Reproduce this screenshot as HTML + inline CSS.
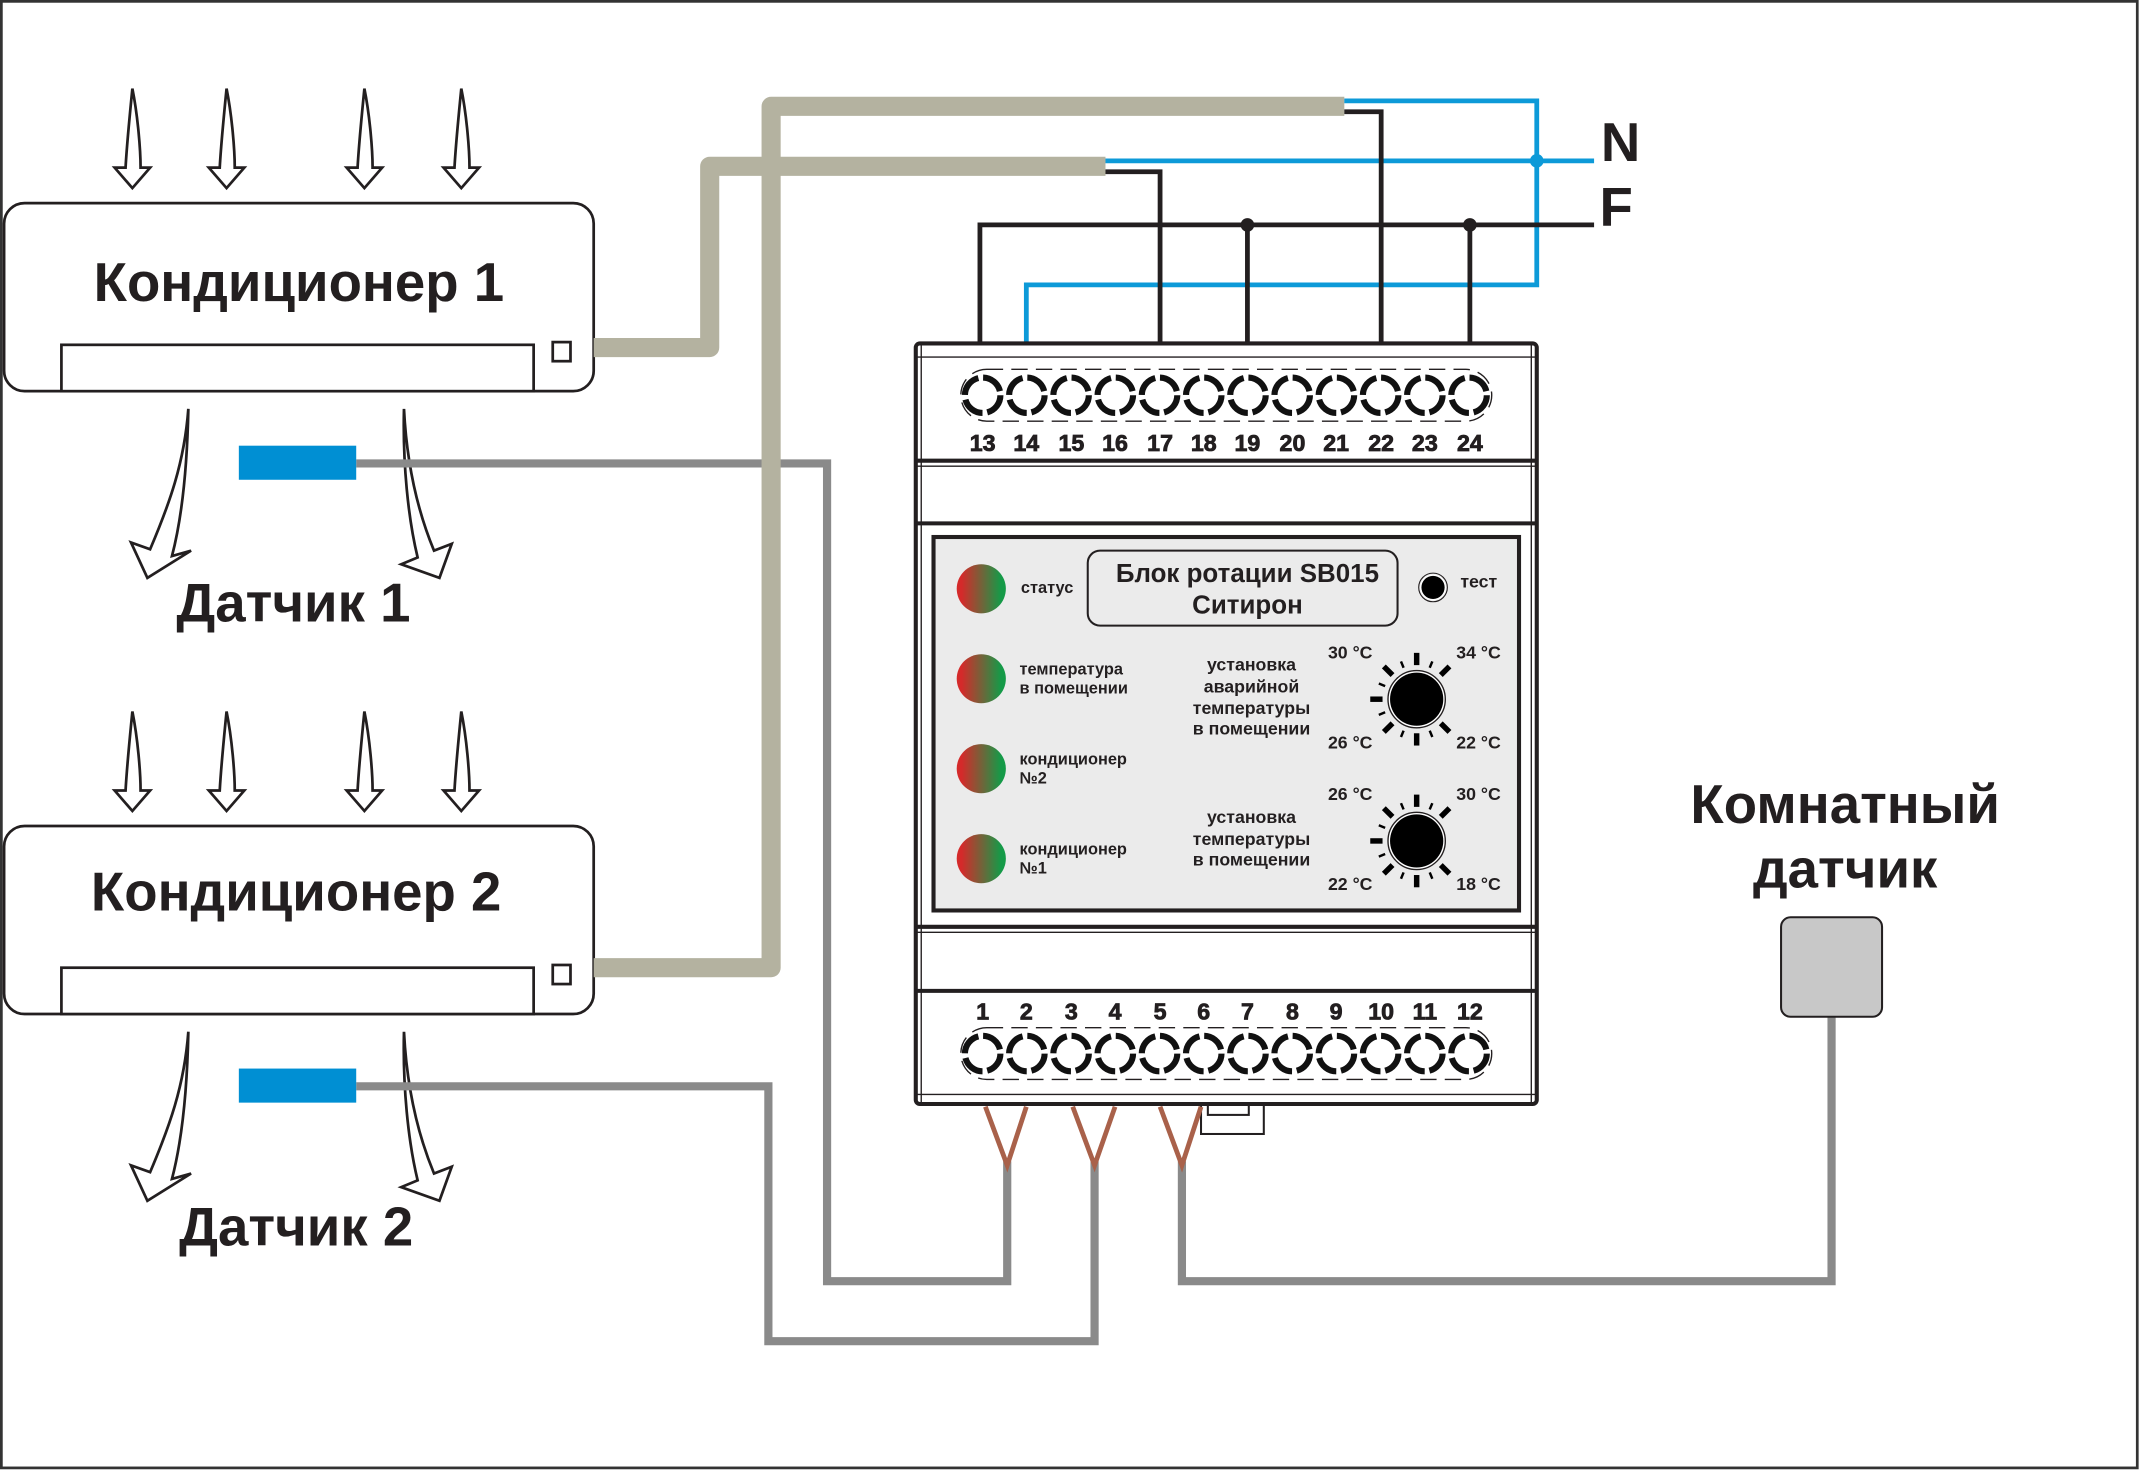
<!DOCTYPE html>
<html><head><meta charset="utf-8"><style>
html,body{margin:0;padding:0;background:#fff}
svg{display:block}
text{font-family:"Liberation Sans",Arial,sans-serif;font-weight:bold;fill:#231f20}
</style></head><body>
<svg id="s" width="2140" height="1472" viewBox="0 0 1568 1080" preserveAspectRatio="none" xmlns="http://www.w3.org/2000/svg">
<defs>
<linearGradient id="led" x1="0" x2="1" y1="0" y2="0"><stop offset="0.1" stop-color="#d42a2a"/><stop offset="0.9" stop-color="#159a48"/></linearGradient>
<path id="ad" d="M0,0 C4,20 6,45 6,58 L13,58 L0,73 L-13,58 L-5,58 C-4,40 -2,20 0,0Z" fill="#fff" stroke="#231f20" stroke-width="2"/>
<path id="al" d="M138,300 C137,350 132,385 126,408 L140,404 L108,424 L96,398 L110,403 C124,370 135,340 138,300Z" fill="#fff" stroke="#231f20" stroke-width="2"/>
<path id="ar" d="M296,300 C298,340 306,375 318,404 L331,399 L322,424 L294,414 L306,409 C299,380 295,340 296,300Z" fill="#fff" stroke="#231f20" stroke-width="2"/>
</defs>
<rect x="1" y="1" width="1565" height="1076" fill="#fff" stroke="#333" stroke-width="2"/>

<!-- AC1 -->
<use href="#ad" x="97" y="65"/><use href="#ad" x="166" y="65"/><use href="#ad" x="267" y="65"/><use href="#ad" x="338" y="65"/>
<rect x="3" y="149" width="432" height="138" rx="15" fill="#fff" stroke="#231f20" stroke-width="2"/>
<rect x="45" y="253" width="346" height="34" fill="#fff" stroke="#231f20" stroke-width="2"/>
<rect x="405" y="251" width="13" height="14" fill="#fff" stroke="#231f20" stroke-width="2"/>
<text x="219" y="221" font-size="40" text-anchor="middle">Кондиционер 1</text>
<use href="#al"/><use href="#ar"/>
<text x="215" y="456" font-size="40" text-anchor="middle">Датчик 1</text>

<!-- AC2 -->
<g transform="translate(0,457)">
<use href="#ad" x="97" y="65"/><use href="#ad" x="166" y="65"/><use href="#ad" x="267" y="65"/><use href="#ad" x="338" y="65"/>
<rect x="3" y="149" width="432" height="138" rx="15" fill="#fff" stroke="#231f20" stroke-width="2"/>
<rect x="45" y="253" width="346" height="34" fill="#fff" stroke="#231f20" stroke-width="2"/>
<rect x="405" y="251" width="13" height="14" fill="#fff" stroke="#231f20" stroke-width="2"/>
<text x="217" y="211" font-size="40" text-anchor="middle">Кондиционер 2</text>
<use href="#al"/><use href="#ar"/>
<text x="217" y="457" font-size="40" text-anchor="middle">Датчик 2</text>
</g>

<!-- gray sensor wires -->
<g fill="none" stroke="#8a8a8a" stroke-width="6">
<polyline points="261,340 606,340 606,940 738,940 738,852"/>
<polyline points="261,797 563,797 563,984 802,984 802,852"/>
<polyline points="1342,745 1342,940 866,940 866,852"/>
</g>
<rect x="175" y="327" width="86" height="25" fill="#008fd3"/>
<rect x="175" y="784" width="86" height="25" fill="#008fd3"/>

<!-- beige cables -->
<g fill="none" stroke="#b4b2a0" stroke-width="14" stroke-linejoin="round">
<polyline points="435,255 520,255 520,122 810,122"/>
<polyline points="435,710 565,710 565,78 985,78"/>
</g>

<!-- mains wires -->
<g fill="none" stroke-width="3.5">
<polyline stroke="#0d9ad8" points="810,118 1168,118"/>
<polyline stroke="#0d9ad8" points="985,74 1126,74 1126,209 752,209 752,254"/>
<polyline stroke="#231f20" points="718,254 718,165 1168,165"/>
<polyline stroke="#231f20" points="810,126 850,126 850,254"/>
<polyline stroke="#231f20" points="985,82 1012,82 1012,254"/>
<line stroke="#231f20" x1="914" y1="165" x2="914" y2="254"/>
<line stroke="#231f20" x1="1077" y1="165" x2="1077" y2="254"/>
</g>
<circle cx="1126" cy="118" r="5" fill="#0d9ad8"/>
<circle cx="914" cy="165" r="5" fill="#231f20"/>
<circle cx="1077" cy="165" r="5" fill="#231f20"/>
<text x="1173" y="118" font-size="40">N</text>
<text x="1172" y="166" font-size="40">F</text>

<!-- device -->
<rect x="880" y="808" width="46" height="24" fill="#fff" stroke="#231f20" stroke-width="1.5"/>
<rect x="885" y="808" width="30" height="10" fill="#fff" stroke="#231f20" stroke-width="1.5"/>
<rect x="671" y="252" width="455" height="558" rx="3" fill="#fff" stroke="#231f20" stroke-width="3"/>
<g stroke="#231f20" fill="none">
<line x1="671" y1="262" x2="1126" y2="262" stroke-width="1"/>
<line x1="675" y1="252" x2="675" y2="810" stroke-width="1"/>
<line x1="1122" y1="252" x2="1122" y2="810" stroke-width="1"/>
<line x1="671" y1="338" x2="1126" y2="338" stroke-width="3"/>
<line x1="671" y1="342" x2="1126" y2="342" stroke-width="1"/>
<line x1="671" y1="384" x2="1126" y2="384" stroke-width="3"/>
<line x1="671" y1="680" x2="1126" y2="680" stroke-width="3"/>
<line x1="671" y1="684" x2="1126" y2="684" stroke-width="1"/>
<line x1="671" y1="727" x2="1126" y2="727" stroke-width="3"/>
<line x1="671" y1="803" x2="1126" y2="803" stroke-width="1"/>
</g>
<rect x="684" y="394" width="429" height="274" fill="#ebebeb" stroke="#231f20" stroke-width="3"/>
<g id="terms"></g>
<g font-size="17" text-anchor="middle" stroke="#231f20" stroke-width="0.6">
<text x="720" y="331">13</text><text x="752" y="331">14</text><text x="785" y="331">15</text><text x="817" y="331">16</text><text x="850" y="331">17</text><text x="882" y="331">18</text><text x="914" y="331">19</text><text x="947" y="331">20</text><text x="979" y="331">21</text><text x="1012" y="331">22</text><text x="1044" y="331">23</text><text x="1077" y="331">24</text>
<text x="720" y="748">1</text><text x="752" y="748">2</text><text x="785" y="748">3</text><text x="817" y="748">4</text><text x="850" y="748">5</text><text x="882" y="748">6</text><text x="914" y="748">7</text><text x="947" y="748">8</text><text x="979" y="748">9</text><text x="1012" y="748">10</text><text x="1044" y="748">11</text><text x="1077" y="748">12</text>
</g>
<!-- brown V wires -->
<g fill="none" stroke="#a9614a" stroke-width="3.5">
<polyline points="722,812 738,855 752,812"/>
<polyline points="786,812 802,855 817,812"/>
<polyline points="850,812 866,855 880,812"/>
</g>

<!-- panel contents -->
<g fill="url(#led)">
<ellipse cx="719" cy="432" rx="18" ry="18"/>
<ellipse cx="719" cy="498" rx="18" ry="18"/>
<ellipse cx="719" cy="564" rx="18" ry="18"/>
<ellipse cx="719" cy="630" rx="18" ry="18"/>
</g>
<g font-size="12">
<text x="748" y="435">статус</text>
<text x="747" y="495">температура</text><text x="747" y="509">в помещении</text>
<text x="747" y="561">кондиционер</text><text x="747" y="575">№2</text>
<text x="747" y="627">кондиционер</text><text x="747" y="641">№1</text>
</g>
<rect x="797" y="404" width="227" height="55" rx="9" fill="none" stroke="#231f20" stroke-width="1.5"/>
<text x="914" y="427" font-size="19" text-anchor="middle">Блок ротации SB015</text>
<text x="914" y="450" font-size="19" text-anchor="middle">Ситирон</text>
<circle cx="1050" cy="431" r="9" fill="#000" stroke="#fff" stroke-width="1"/>
<circle cx="1050" cy="431" r="10.5" fill="none" stroke="#231f20" stroke-width="0.8"/>
<text x="1070" y="431" font-size="13">тест</text>
<g font-size="13" text-anchor="middle">
<text x="917" y="492">установка</text><text x="917" y="508">аварийной</text><text x="917" y="524">температуры</text><text x="917" y="539">в помещении</text>
<text x="917" y="604">установка</text><text x="917" y="620">температуры</text><text x="917" y="635">в помещении</text>
</g>
<g font-size="13">
<text x="973" y="483">30 °C</text><text x="1067" y="483">34 °C</text>
<text x="973" y="549">26 °C</text><text x="1067" y="549">22 °C</text>
<text x="973" y="587">26 °C</text><text x="1067" y="587">30 °C</text>
<text x="973" y="653">22 °C</text><text x="1067" y="653">18 °C</text>
</g>
<g id="knobs"></g>

<!-- room sensor -->
<text x="1352" y="604" font-size="40" text-anchor="middle">Комнатный</text>
<text x="1352" y="651" font-size="40" text-anchor="middle">датчик</text>
<rect x="1305" y="673" width="74" height="73" rx="7" fill="#c8c8c8" stroke="#231f20" stroke-width="1.5"/>
</svg>
<script>
var NS="http://www.w3.org/2000/svg";
function el(p,t,a){var e=document.createElementNS(NS,t);for(var k in a)e.setAttribute(k,a[k]);p.appendChild(e);return e;}
var T=document.getElementById("terms");
[290,773].forEach(function(cy){
 el(T,"rect",{x:704,y:cy-19,width:389,height:38,rx:19,fill:"none",stroke:"#231f20","stroke-width":1,"stroke-dasharray":"12,6"});
 for(var i=0;i<12;i++){var cx=720+i*32.4;
  el(T,"circle",{cx:cx,cy:cy,r:13,fill:"#fff",stroke:"#111","stroke-width":4.5,"stroke-dasharray":"17,3.5"});}
});
var K=document.getElementById("knobs");
[[1038,513],[1038,617]].forEach(function(c){
 for(var a=45;a<=315;a+=22.5){var big=(a%45===0);var r1=25,r2=big?34:30;
  var sa=a*Math.PI/180;
  var x1=c[0]+r1*Math.cos(sa),y1=c[1]+r1*Math.sin(sa),x2=c[0]+r2*Math.cos(sa),y2=c[1]+r2*Math.sin(sa);
  el(K,"line",{x1:x1,y1:y1,x2:x2,y2:y2,stroke:"#000","stroke-width":big?4:1.8});}
 el(K,"circle",{cx:c[0],cy:c[1],r:21,fill:"#fff",stroke:"#231f20","stroke-width":1});
 el(K,"circle",{cx:c[0],cy:c[1],r:19.5,fill:"#000"});
});
</script>
</body></html>
